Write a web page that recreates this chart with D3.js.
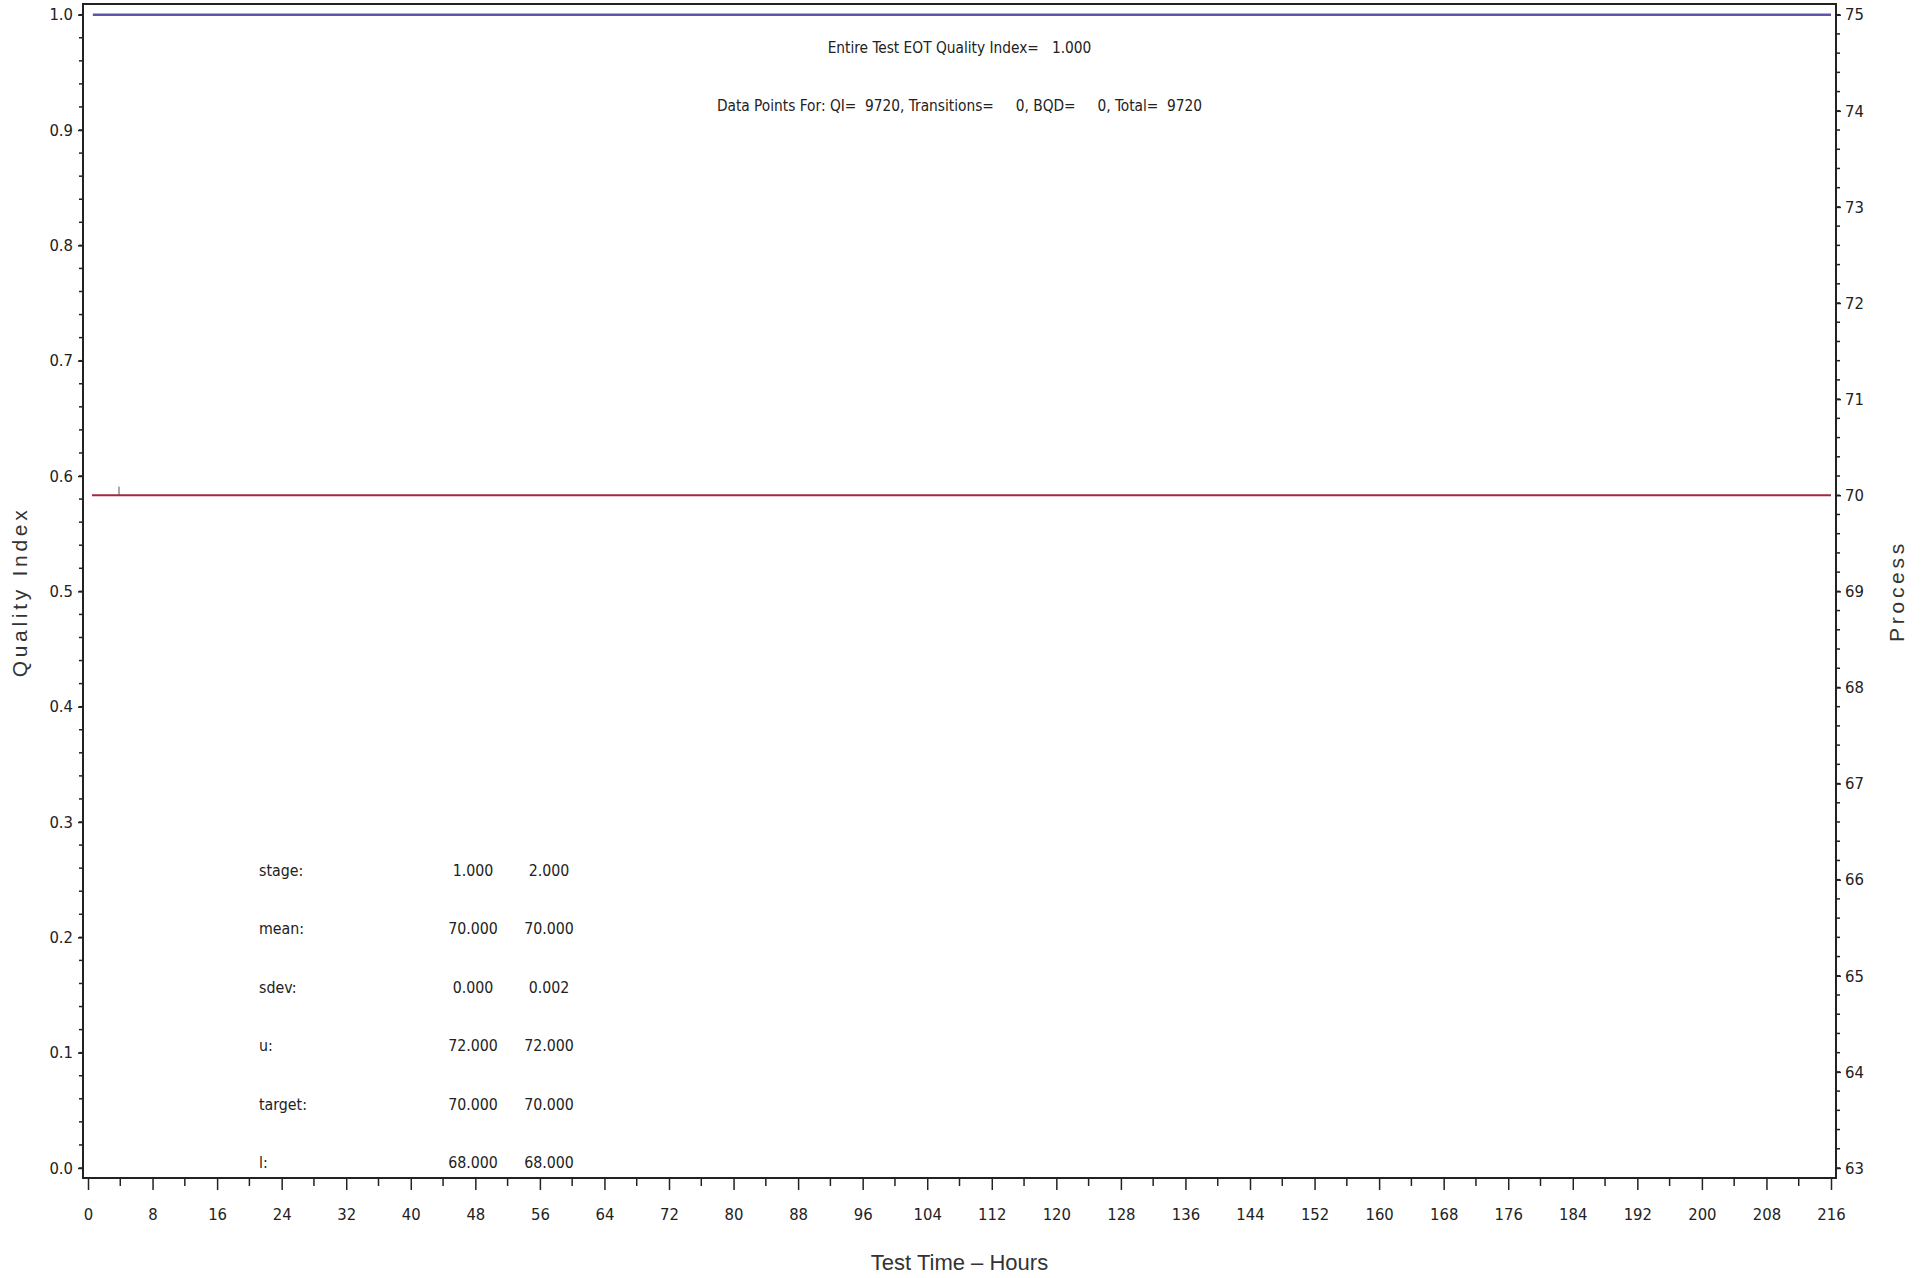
<!DOCTYPE html>
<html>
<head>
<meta charset="utf-8">
<script src="https://cdn.jsdelivr.net/npm/d3@7"></script>
<style>
html,body{margin:0;padding:0;background:#fff;}
svg{display:block;}
.cond{font-family:"Liberation Sans Narrow","DejaVu Sans Condensed","Arial Narrow",sans-serif;}
</style>
</head>
<body>
<svg id="chart" width="1927" height="1278"></svg>
<script>
// ---- data ----
const xTickValues = [0,8,16,24,32,40,48,56,64,72,80,88,96,104,112,120,128,136,144,152,160,168,176,184,192,200,208,216];
const yLeftTickValues = [0.0,0.1,0.2,0.3,0.4,0.5,0.6,0.7,0.8,0.9,1.0];
const yRightTickValues = [63,64,65,66,67,68,69,70,71,72,73,74,75];

// Quality Index series (hours, QI)
const qiHours = [0.6, 216];
const qiValues = [1.0, 1.0];
// Process series (hours, process value)
const procHours = [0.5, 216];
const procValues = [70.0, 70.0];
// small stage-change marker on the process line
const markerHours = [3.84];
const markerTop = [70.09];

const headerLines = ["Entire Test EOT Quality Index=   1.000",
  "Data Points For: QI=  9720, Transitions=     0, BQD=     0, Total=  9720"];
const statLabels = ["stage:", "mean:", "sdev:", "u:", "target:", "l:"];
const stage1Stats = ["1.000", "70.000", "0.000", "72.000", "70.000", "68.000"];
const stage2Stats = ["2.000", "70.000", "0.002", "72.000", "70.000", "68.000"];

// ---- layout ----
const svg = d3.select("#chart");
const frame = {left: 83, top: 4, right: 1836, bottom: 1178};
const x = d3.scaleLinear().domain([0, 216]).range([88, 1831]);
const yL = d3.scaleLinear().domain([0, 1]).range([1168, 14.7]);
const yR = d3.scaleLinear().domain([63, 75]).range([1168, 14.7]);

// frame
svg.append("rect").attr("x", frame.left).attr("y", frame.top)
  .attr("width", frame.right - frame.left).attr("height", frame.bottom - frame.top)
  .attr("fill", "none").attr("stroke", "#222").attr("stroke-width", 2);

// left axis
const leftMinor = d3.range(0, 1.0001, 0.02);
svg.append("g").selectAll("line").data(leftMinor).join("line")
  .attr("x1", frame.left - 4).attr("x2", frame.left)
  .attr("y1", d => yL(d)).attr("y2", d => yL(d))
  .attr("stroke", "#222").attr("stroke-width", 1.5);
const gL = svg.append("g").attr("transform", `translate(${frame.left},0)`)
  .call(d3.axisLeft(yL).tickValues(yLeftTickValues).tickFormat(d3.format(".1f")).tickSize(5).tickPadding(5));
gL.select(".domain").remove();
gL.selectAll("line").attr("stroke", "#222").attr("stroke-width", 1.5);
gL.selectAll("text").attr("class", "cond").attr("font-size", 16.5).attr("fill", "#222");

// right axis
const rightMinor = d3.range(63, 75.0001, 0.2);
svg.append("g").selectAll("line").data(rightMinor).join("line")
  .attr("x1", frame.right).attr("x2", frame.right + 4)
  .attr("y1", d => yR(d)).attr("y2", d => yR(d))
  .attr("stroke", "#222").attr("stroke-width", 1.5);
const gR = svg.append("g").attr("transform", `translate(${frame.right},0)`)
  .call(d3.axisRight(yR).tickValues(yRightTickValues).tickFormat(d3.format("d")).tickSize(5).tickPadding(4));
gR.select(".domain").remove();
gR.selectAll("line").attr("stroke", "#222").attr("stroke-width", 1.5);
gR.selectAll("text").attr("class", "cond").attr("font-size", 16.5).attr("fill", "#222");

// bottom axis
const bottomMinor = d3.range(4, 216, 8);
svg.append("g").selectAll("line").data(bottomMinor).join("line")
  .attr("x1", d => x(d)).attr("x2", d => x(d))
  .attr("y1", frame.bottom).attr("y2", frame.bottom + 8)
  .attr("stroke", "#222").attr("stroke-width", 1.5);
const gB = svg.append("g").attr("transform", `translate(0,${frame.bottom})`)
  .call(d3.axisBottom(x).tickValues(xTickValues).tickFormat(d3.format("d")).tickSize(12).tickPadding(18));
gB.select(".domain").remove();
gB.selectAll("line").attr("stroke", "#222").attr("stroke-width", 1.5);
gB.selectAll("text").attr("class", "cond").attr("font-size", 16.5).attr("fill", "#222");

// axis titles
svg.append("text").attr("x", x(108)).attr("y", 1270)
  .attr("text-anchor", "middle").attr("font-family", "Liberation Sans, Arial, sans-serif")
  .attr("font-size", 22).attr("fill", "#333").text("Test Time – Hours");
svg.append("text").attr("transform", "translate(27,592) rotate(-90)")
  .attr("text-anchor", "middle").attr("font-family", "Liberation Sans, Arial, sans-serif")
  .attr("font-size", 21).attr("letter-spacing", 3.7).attr("fill", "#333").text("Quality Index");
svg.append("text").attr("transform", "translate(1904,591) rotate(-90)")
  .attr("text-anchor", "middle").attr("font-family", "Liberation Sans, Arial, sans-serif")
  .attr("font-size", 21).attr("letter-spacing", 3.7).attr("fill", "#333").text("Process");

// series
const qiData = qiHours.map((h, i) => [h, qiValues[i]]);
const procData = procHours.map((h, i) => [h, procValues[i]]);
svg.append("path").datum(qiData)
  .attr("d", d3.line().x(d => x(d[0])).y(d => yL(d[1])))
  .attr("fill", "none").attr("stroke", "#5b55b0").attr("stroke-width", 2.5);
svg.append("path").datum(procData)
  .attr("d", d3.line().x(d => x(d[0])).y(d => yR(d[1])))
  .attr("fill", "none").attr("stroke", "#a3283c").attr("stroke-width", 2);
svg.append("g").selectAll("line").data(markerHours).join("line")
  .attr("x1", d => x(d)).attr("x2", d => x(d))
  .attr("y1", yR(procValues[0])).attr("y2", (d, i) => yR(markerTop[i]))
  .attr("stroke", "#555").attr("stroke-width", 1);

// header text
svg.append("g").selectAll("text").data(headerLines).join("text")
  .attr("class", "cond").attr("x", x(108)).attr("y", (d, i) => 53 + i * 57.5)
  .attr("text-anchor", "middle").attr("font-size", 15.3).attr("fill", "#222")
  .attr("xml:space", "preserve").style("white-space", "pre").text(d => d);

// stats table
const rowY = i => 876 + i * 58.4;
const tbl = svg.append("g").attr("class", "cond").attr("font-size", 15.8).attr("fill", "#222");
tbl.selectAll("text.lab").data(statLabels).join("text").attr("class", "lab")
  .attr("x", 259).attr("y", (d, i) => rowY(i)).text(d => d);
tbl.selectAll("text.s1").data(stage1Stats).join("text").attr("class", "s1")
  .attr("x", 473).attr("y", (d, i) => rowY(i)).attr("text-anchor", "middle").text(d => d);
tbl.selectAll("text.s2").data(stage2Stats).join("text").attr("class", "s2")
  .attr("x", 549).attr("y", (d, i) => rowY(i)).attr("text-anchor", "middle").text(d => d);
</script>
</body>
</html>
